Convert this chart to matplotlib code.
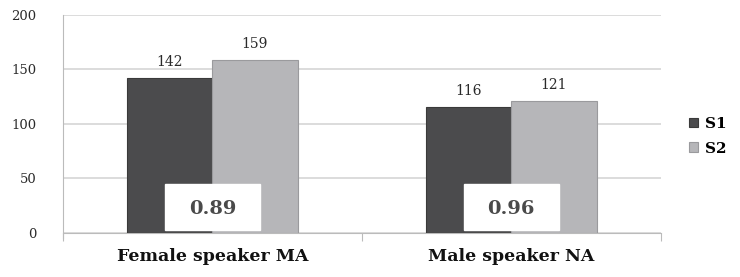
import matplotlib.pyplot as plt
from matplotlib.patches import Rectangle

categories = ['Female speaker MA', 'Male speaker NA']
s1 = [142, 116]
s2 = [159, 121]
ratios = ['0.89', '0.96']
yticks = [0, 50, 100, 150, 200]

c1 = '#4b4b4d'
c2 = '#b6b6b9'
grid_c = '#d6d6d6'
text_c = '#2a2a2a'

plt.rcParams['font.family'] = ['DejaVu Serif']

fig = plt.figure(figsize=(7.4, 2.77), dpi=100)
ax = fig.add_axes([0.085, 0.159, 0.808, 0.787])

w = 0.285
x = list(range(len(categories)))
b1 = ax.bar([i - w / 2 for i in x], s1, width=w, color=c1, edgecolor='#3a3a3a',
            linewidth=0.8, label='S1', zorder=3)
b2 = ax.bar([i + w / 2 for i in x], s2, width=w, color=c2, edgecolor='#9a9a9d',
            linewidth=0.8, label='S2', zorder=3)

for bars, vals in ((b1, s1), (b2, s2)):
    for r, v in zip(bars, vals):
        ax.text(r.get_x() + r.get_width() / 2, v + 8, str(v), ha='center',
                va='bottom', fontsize=10, color=text_c, zorder=5)

# white boxes holding the ratio values
for i, t in zip(x, ratios):
    ax.add_patch(Rectangle((i - 0.16, 3), 0.32, 42, facecolor='white',
                           edgecolor='white', zorder=4))
    ax.text(i, 22, t, ha='center', va='center', fontsize=14, fontweight='bold',
            color='#4a4a4a', zorder=5)

ax.set_xlim(-0.5, 1.5)
ax.set_ylim(0, 200)
ax.set_yticks(yticks)
ax.set_yticklabels([str(t) for t in yticks], fontsize=9.5, color=text_c)
ax.tick_params(axis='y', length=0, pad=19)
ax.yaxis.grid(True, color=grid_c, linewidth=1.2, zorder=0)
ax.set_axisbelow(True)

ax.set_xticks([-0.5, 0.5, 1.5])
ax.set_xticklabels([])
ax.tick_params(axis='x', length=6, color='#bbbbbb', direction='out')
for i, c in zip(x, categories):
    ax.text(i, -14, c, ha='center', va='top', fontsize=12.5, fontweight='bold',
            color='#111111', transform=ax.transData)

for s in ('top', 'right'):
    ax.spines[s].set_visible(False)
ax.spines['left'].set_color('#bbbbbb')
ax.spines['bottom'].set_color('#bbbbbb')
ax.spines['left'].set_bounds(-5, 200)

fig.legend(handles=[b1, b2], labels=['S1', 'S2'], loc='center left',
           bbox_to_anchor=(0.912, 0.508), frameon=False, handlelength=0.6,
           handleheight=0.6, handletextpad=0.5, labelspacing=0.7,
           prop={'family': 'DejaVu Serif', 'weight': 'bold', 'size': 11})

fig.savefig('out.png', dpi=100)
